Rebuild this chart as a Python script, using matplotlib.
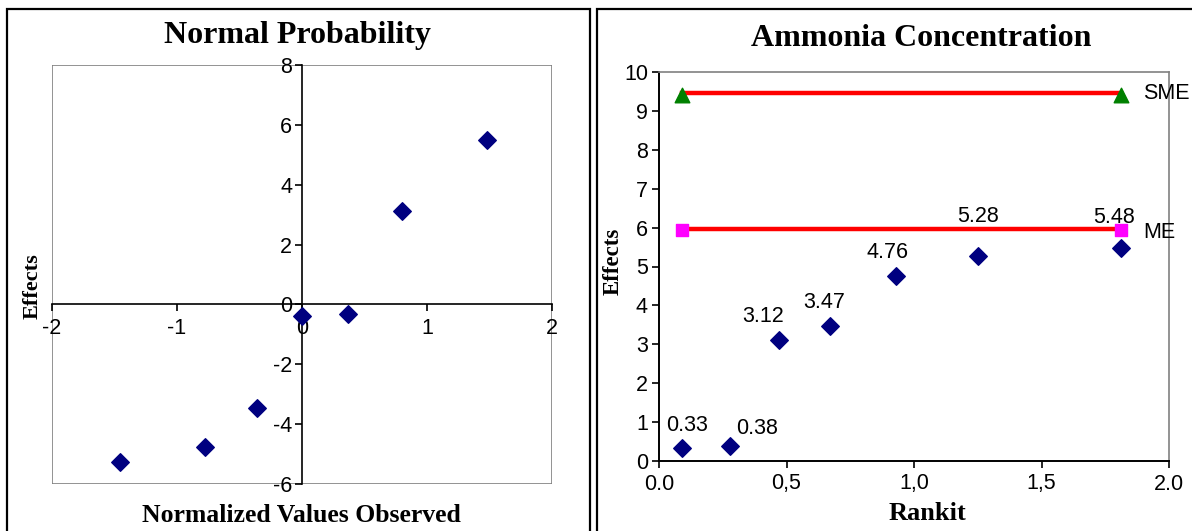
import matplotlib
matplotlib.use('Agg')
import matplotlib.pyplot as plt
from matplotlib.patches import Rectangle

# left chart: normal probability plot of the effects
normal_scores = [-1.46, -0.78, -0.36, 0.0, 0.37, 0.80, 1.48]
effects_signed = [-5.28, -4.76, -3.47, -0.38, -0.33, 3.12, 5.48]

# right chart: half-normal (rankit) plot of absolute effects
rankit = [0.09, 0.28, 0.47, 0.67, 0.93, 1.25, 1.81]
effects_abs = [0.33, 0.38, 3.12, 3.47, 4.76, 5.28, 5.48]
effect_labels = ['0.33', '0.38', '3.12', '3.47', '4.76', '5.28', '5.48']

limit_x = [0.09, 1.81]
sme_value = 9.45
me_value = 5.97
sme_marker = 9.40
me_marker = 5.93

x_ticks_right = [0.0, 0.5, 1.0, 1.5, 2.0]
x_ticklabels_right = ['0.0', '0,5', '1,0', '1,5', '2.0']

W, H = 1192, 531
SERIF = 'Liberation Serif'
SANS = 'Liberation Sans'
NAVY = '#000080'

plt.rcParams['axes.unicode_minus'] = False


def px_rect(x0, y0, x1, y1):
    # pixel box (top-left origin) -> figure fraction rect
    return [x0 / W, (H - y1) / H, (x1 - x0) / W, (y1 - y0) / H]


def plot_normal(fig):
    ax = fig.add_axes(px_rect(52, 65, 552, 484))
    ax.scatter(normal_scores, effects_signed, marker='D', s=80,
               color=NAVY, zorder=3, clip_on=False)
    ax.set_xlim(-2, 2)
    ax.set_ylim(-6, 8)
    ax.set_xticks([-2, -1, 0, 1, 2])
    ax.set_yticks([-6, -4, -2, 0, 2, 4, 6, 8])
    for s in ['top', 'right']:
        ax.spines[s].set_visible(False)
    ax.spines['left'].set_position(('data', 0))
    ax.spines['bottom'].set_position(('data', 0))
    for s in ['left', 'bottom']:
        ax.spines[s].set_color('black')
        ax.spines[s].set_linewidth(1.2)
    ax.add_patch(Rectangle((0, 0), 1, 1, transform=ax.transAxes, fill=False,
                           ec='#808080', lw=1.2, zorder=0))
    ax.tick_params(direction='out', length=5, width=1.2, labelsize=15.5,
                   pad=2)
    ax.tick_params(axis='x', pad=5)
    for lab in ax.get_xticklabels() + ax.get_yticklabels():
        lab.set_fontfamily(SANS)

    fig.text(297 / W, 1 - 35 / H, 'Normal Probability', ha='center',
             va='center', family=SERIF, weight='bold', fontsize=23)
    fig.text(301 / W, 1 - 515 / H, 'Normalized Values Observed', ha='center',
             va='center', family=SERIF, weight='bold', fontsize=18.5)
    fig.text(33 / W, 1 - 286 / H, 'Effects', ha='center', va='center',
             rotation=90, family=SERIF, weight='bold', fontsize=16)


def plot_rankit(fig):
    ax = fig.add_axes(px_rect(659, 72, 1169, 461))
    ax.plot(limit_x, [sme_value, sme_value], color='#FF0000', lw=3.2,
            zorder=2)
    ax.plot(limit_x, [me_value, me_value], color='#FF0000', lw=3.2,
            zorder=2)
    ax.scatter(limit_x, [sme_marker, sme_marker], marker='^', s=110,
               color='#008000', zorder=3, clip_on=False)
    ax.scatter(limit_x, [me_marker, me_marker], marker='s', s=85,
               color='#FF00FF', zorder=3, clip_on=False)
    ax.scatter(rankit, effects_abs, marker='D', s=80, color=NAVY, zorder=3)

    # data labels, nudged like the original
    label_offsets = [(4, 16), (19, 13), (-11, 17), (-4, 17), (-6, 17),
                     (0, 28), (-5, 22)]
    for x, y, t, off in zip(rankit, effects_abs, effect_labels, label_offsets):
        ax.annotate(t, (x, y), xytext=off, textcoords='offset points',
                    ha='center', va='center', family=SANS, fontsize=15.5,
                    zorder=4)

    ax.annotate('SME', (limit_x[1], sme_value), xytext=(16, 0),
                textcoords='offset points', ha='left', va='center',
                family=SANS, fontsize=15.5, annotation_clip=False)
    ax.annotate('ME', (limit_x[1], me_value), xytext=(16, -3),
                textcoords='offset points', ha='left', va='center',
                family=SANS, fontsize=15.5, annotation_clip=False)

    ax.set_xlim(0, 2)
    ax.set_ylim(0, 10)
    ax.set_xticks(x_ticks_right)
    ax.set_xticklabels(x_ticklabels_right)
    ax.set_yticks(range(0, 11))
    for s in ['top', 'right']:
        ax.spines[s].set_color('#808080')
        ax.spines[s].set_linewidth(1.2)
    for s in ['left', 'bottom']:
        ax.spines[s].set_color('black')
        ax.spines[s].set_linewidth(1.4)
    ax.tick_params(direction='out', length=5, width=1.2, labelsize=15.5,
                   pad=3)
    ax.tick_params(axis='x', pad=4)
    for lab in ax.get_xticklabels() + ax.get_yticklabels():
        lab.set_fontfamily(SANS)

    fig.text(921 / W, 1 - 38 / H, 'Ammonia Concentration', ha='center',
             va='center', family=SERIF, weight='bold', fontsize=23)
    fig.text(927 / W, 1 - 513 / H, 'Rankit', ha='center', va='center',
             family=SERIF, weight='bold', fontsize=19)
    fig.text(613 / W, 1 - 261 / H, 'Effects', ha='center', va='center',
             rotation=90, family=SERIF, weight='bold', fontsize=16.5)


def main():
    fig = plt.figure(figsize=(W / 100, H / 100), dpi=100)
    fig.patch.set_facecolor('white')
    # chart area frames
    for x0, x1 in [(7, 590), (597, 1210)]:
        fig.add_artist(Rectangle((x0 / W, -0.1), (x1 - x0) / W,
                                 1.1 - 9 / H, transform=fig.transFigure,
                                 fill=False, ec='black', lw=1.6))
    plot_normal(fig)
    plot_rankit(fig)
    fig.savefig('out.png', dpi=100)
    plt.close(fig)


if __name__ == '__main__':
    main()
